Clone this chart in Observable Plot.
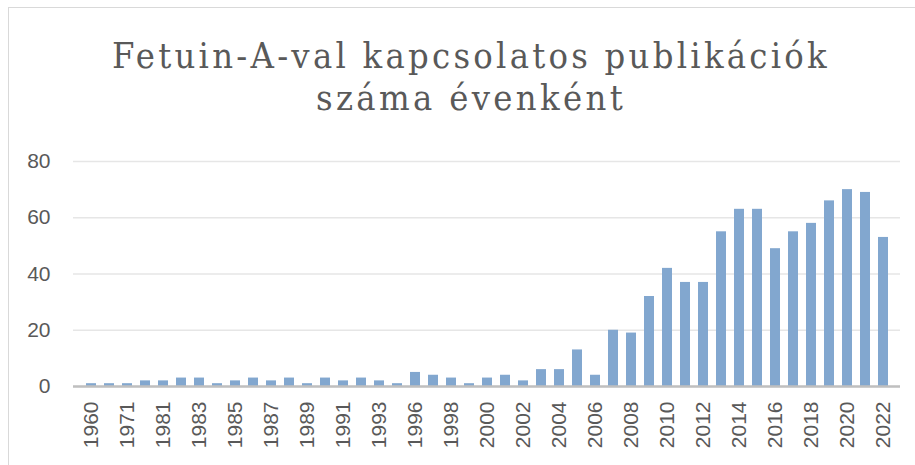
<!DOCTYPE html>
<html>
<head>
<meta charset="utf-8">
<script src="https://cdn.jsdelivr.net/npm/d3@7"></script>
<script src="https://cdn.jsdelivr.net/npm/@observablehq/plot@0.6"></script>
<style>
  html, body { margin: 0; padding: 0; background: #fff; }
  #wrap { position: relative; width: 915px; height: 465px; overflow: hidden; }
  #frame { position: absolute; left: 8px; top: 7px; width: 920px; height: 470px; border: 1.5px solid #d9d9d9; box-sizing: border-box; }
  #title { position: absolute; left: 0; width: 942px; top: 35px; text-align: center;
           font-family: "DejaVu Serif Condensed", "DejaVu Serif", serif; font-stretch: condensed;
           font-size: 36px; line-height: 42px; color: #595959; }
  #title div { white-space: nowrap; height: 42px; }
  #chart { position: absolute; left: 0; top: 130px; }
</style>
</head>
<body>
<div id="wrap">
  <div id="frame"></div>
  <div id="title"><div id="t1">Fetuin-A-val kapcsolatos publikációk</div><div id="t2">száma évenként</div></div>
  <div id="chart"></div>
</div>
<script>
const years = ["1960","1965","1971","1976","1981","1982","1983","1984","1985","1986","1987","1988","1989","1990","1991","1992","1993","1994","1996","1997","1998","1999","2000","2001","2002","2003","2004","2005","2006","2007","2008","2009","2010","2011","2012","2013","2014","2015","2016","2017","2018","2019","2020","2021","2022"];
const counts = [1,1,1,2,2,3,3,1,2,3,2,3,1,3,2,3,2,1,5,4,3,1,3,4,2,6,6,13,4,20,19,32,42,37,37,55,63,63,49,55,58,66,70,69,53];
const yTicks = [0,20,40,60,80];

const data = years.map((y, i) => ({year: y, n: counts[i]}));
const tickLabels = years.filter((d, i) => i % 2 === 0);

const chart = Plot.plot({
  width: 915,
  height: 335,
  marginLeft: 73,
  marginRight: 15,
  marginTop: 31,
  marginBottom: 79,
  style: {fontFamily: "'Liberation Sans', Arial, sans-serif", fontSize: "21px", color: "#595959", background: "transparent"},
  x: {domain: years, paddingInner: 0.45, paddingOuter: 0.22},
  y: {domain: [0, 80]},
  marks: [
    Plot.gridY(yTicks, {stroke: "#e6e6e6", strokeOpacity: 1, strokeWidth: 1.5}),
    Plot.barY(data, {x: "year", y: "n", fill: "#82a7cf"}),
    Plot.ruleY([0], {stroke: "#bfbfbf", strokeWidth: 2.5}),
    Plot.axisY({ticks: yTicks, tickSize: 0, tickPadding: 23, label: null, fill: "#595959"}),
    Plot.axisX({ticks: tickLabels, tickSize: 0, tickRotate: -90, tickPadding: 15, label: null, fill: "#595959"})
  ]
});
document.getElementById("chart").appendChild(chart);

// fit title widths to the reference line widths (measure with a temporary span)
function fit(id, target) {
  const el = document.getElementById(id);
  const text = el.textContent;
  const span = document.createElement("span");
  span.textContent = text;
  el.textContent = "";
  el.appendChild(span);
  const w = span.getBoundingClientRect().width;
  el.textContent = text;
  el.style.letterSpacing = ((target - w) / text.length) + "px";
}
fit("t1", 718);
fit("t2", 310);
</script>
</body>
</html>
